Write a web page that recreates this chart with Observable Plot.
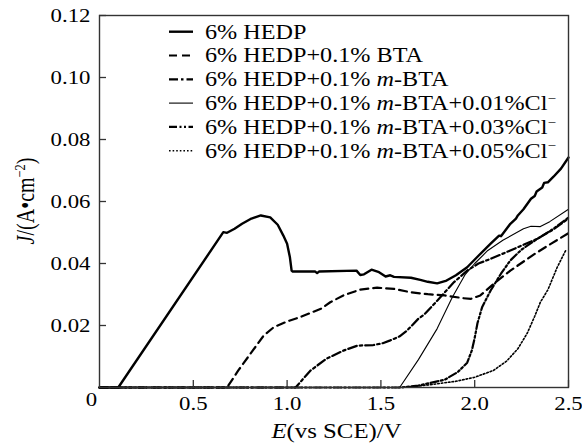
<!DOCTYPE html>
<html>
<head>
<meta charset="utf-8">
<script src="https://cdn.jsdelivr.net/npm/d3@7"></script>
<script src="https://cdn.jsdelivr.net/npm/@observablehq/plot@0.6"></script>
<style>
  body { margin: 0; background: #fff; }
  #chart svg { font-family: "Liberation Serif", "Times New Roman", serif; }
</style>
</head>
<body>
<div id="chart"></div>
<script>
// Anodic polarization curves, E (V vs SCE) against J (A/cm²)
const hedp = [[0,0],[0.10,0],[0.66,0.0501],[0.68,0.0499],[0.72,0.0512],[0.76,0.0528],[0.81,0.0545],[0.86,0.0555],[0.91,0.0549],[0.95,0.0525],[0.98,0.049],[1.0,0.0464],[1.015,0.042],[1.024,0.0377],[1.03,0.0374],[1.15,0.0374],[1.16,0.0369],[1.17,0.0374],[1.37,0.0377],[1.39,0.0363],[1.41,0.0365],[1.45,0.038],[1.49,0.0372],[1.525,0.0358],[1.55,0.0362],[1.57,0.0357],[1.66,0.0354],[1.71,0.0347],[1.75,0.0341],[1.80,0.0336],[1.85,0.0345],[1.90,0.0362],[1.96,0.0388],[2.02,0.0425],[2.085,0.0464],[2.13,0.049],[2.14,0.0488],[2.19,0.0528],[2.22,0.0545],[2.23,0.0555],[2.26,0.0575],[2.30,0.0609],[2.32,0.0618],[2.33,0.0632],[2.36,0.0645],[2.37,0.066],[2.39,0.0662],[2.42,0.068],[2.46,0.0706],[2.50,0.0742]];
const bta = [[0,0],[0.68,0],[0.74,0.0055],[0.80,0.0105],[0.876,0.0168],[0.93,0.0195],[1.0,0.0213],[1.07,0.0227],[1.18,0.0254],[1.23,0.0275],[1.30,0.0297],[1.39,0.0316],[1.48,0.0322],[1.57,0.0318],[1.66,0.0307],[1.75,0.0301],[1.84,0.0297],[1.94,0.0288],[1.98,0.0286],[2.03,0.0297],[2.10,0.0334],[2.19,0.0377],[2.32,0.0431],[2.41,0.0465],[2.5,0.0498]];
const mbta = [[0,0],[1.045,0],[1.125,0.0055],[1.21,0.0093],[1.30,0.0119],[1.375,0.0135],[1.46,0.0137],[1.51,0.0143],[1.55,0.0152],[1.60,0.0165],[1.64,0.0184],[1.70,0.0222],[1.73,0.0235],[1.80,0.028],[1.89,0.034],[1.96,0.0377],[2.02,0.040],[2.085,0.0415],[2.19,0.0442],[2.335,0.048],[2.42,0.051],[2.5,0.0545]];
const cl001 = [[0,0],[1.6,0],[1.7,0.009],[1.8,0.019],[1.88,0.029],[1.95,0.0365],[2.0,0.040],[2.07,0.0442],[2.15,0.0475],[2.26,0.0512],[2.3,0.052],[2.35,0.0519],[2.4,0.0535],[2.5,0.0575]];
const cl003 = [[0,0],[1.6,0],[1.7,0.0006],[1.765,0.0015],[1.84,0.0025],[1.91,0.005],[1.96,0.008],[1.985,0.012],[2.0,0.016],[2.015,0.0208],[2.04,0.026],[2.085,0.0313],[2.14,0.0367],[2.19,0.041],[2.25,0.0445],[2.335,0.048],[2.42,0.0512],[2.5,0.0548]];
const cl005 = [[0,0],[1.62,0],[1.75,0.0008],[1.9,0.002],[2.0,0.0033],[2.1,0.0055],[2.17,0.0085],[2.23,0.0125],[2.28,0.0175],[2.32,0.023],[2.35,0.0275],[2.39,0.0315],[2.44,0.0388],[2.485,0.0442]];

// Legend labels as runs of text: i = italic, sup = superscript
const labels = [
  [{t: "6% HEDP"}],
  [{t: "6% HEDP+0.1% BTA"}],
  [{t: "6% HEDP+0.1% "}, {t: "m", i: true}, {t: "-BTA"}],
  [{t: "6% HEDP+0.1% "}, {t: "m", i: true}, {t: "-BTA+0.01%Cl"}, {t: "\u2212", sup: true}],
  [{t: "6% HEDP+0.1% "}, {t: "m", i: true}, {t: "-BTA+0.03%Cl"}, {t: "\u2212", sup: true}],
  [{t: "6% HEDP+0.1% "}, {t: "m", i: true}, {t: "-BTA+0.05%Cl"}, {t: "\u2212", sup: true}]
];
const xTicks = [0.5, 1.0, 1.5, 2.0, 2.5];
const yTicks = [0.02, 0.04, 0.06, 0.08, 0.10, 0.12];

const series = [hedp, bta, mbta, cl001, cl003, cl005];
const lineStyles = [
  {strokeWidth: 2.4, dash: null},
  {strokeWidth: 2.2, dash: "8,5"},
  {strokeWidth: 2.2, dash: "9,3,2.5,3"},
  {strokeWidth: 1.1, dash: null},
  {strokeWidth: 2.2, dash: "8,2.5,2,2.5,2,2.5"},
  {strokeWidth: 1.6, dash: "1.6,2"}
];

const W = 582, H = 445, mL = 99, mR = 14, mT = 15, mB = 58;
const plotW = W - mL - mR, plotH = H - mT - mB;
const FS = 19, STRETCH = 1.2;

const lineMarks = series.map((s, k) => Plot.line(s, {
  x: d => d[0], y: d => d[1], stroke: "#000",
  strokeWidth: lineStyles[k].strokeWidth,
  strokeDasharray: lineStyles[k].dash,
  strokeLinejoin: "round"
}));

const chart = Plot.plot({
  width: W, height: H,
  marginLeft: mL, marginRight: mR, marginTop: mT, marginBottom: mB,
  style: {fontFamily: "'Liberation Serif', 'Times New Roman', serif", fontSize: FS + "px", color: "#000", background: "#fff"},
  x: {domain: [0, 2.5]},
  y: {domain: [0, 0.12]},
  marks: [
    ...lineMarks.slice().reverse(),
    Plot.tickY(yTicks, {y: d => d, insetRight: plotW - 7, stroke: "#333", strokeWidth: 1.3}),
    Plot.tickX(xTicks, {x: d => d, insetTop: plotH - 7, stroke: "#333", strokeWidth: 1.3}),
    Plot.frame({stroke: "#333", strokeWidth: 1.4}),
    Plot.axisY(yTicks, {tickSize: 0, tickPadding: 9, tickFormat: d => d.toFixed(2), label: null, fill: "#000"}),
    Plot.axisX(xTicks, {tickSize: 0, tickPadding: 9, tickFormat: d => d.toFixed(1), label: null, fill: "#000"}),
    Plot.text([[0, 0]], {x: d => d[0], y: d => d[1], text: () => "0", dx: -8, dy: 12, fill: "#000"})
  ]
});
document.getElementById("chart").appendChild(chart);

const svg = d3.select(chart);

function addRuns(sel, runs) {
  runs.forEach(r => {
    const ts = sel.append("tspan").text(r.t);
    if (r.i) ts.attr("font-style", "italic");
    if (r.sup) ts.attr("font-size", "0.62em").attr("baseline-shift", "0.55em");
  });
}

// Axis titles
const yTitle = svg.append("text")
  .attr("class", "wide")
  .attr("text-anchor", "middle")
  .attr("font-size", 20)
  .attr("transform", `translate(25,${mT + plotH / 2}) rotate(-90)`)
  .attr("dy", "0.35em")
  .attr("fill", "#000");
addRuns(yTitle, [{t: "J", i: true}, {t: "/(A\u2022cm"}, {t: "\u22122", sup: true}, {t: ")"}]);

const xTitle = svg.append("text")
  .attr("class", "wide")
  .attr("text-anchor", "middle")
  .attr("font-size", 20)
  .attr("transform", `translate(${mL + plotW / 2 + 3},438)`)
  .attr("fill", "#000");
addRuns(xTitle, [{t: "E", i: true}, {t: "(vs SCE)/V"}]);

// Legend inside the plot area
const leg = svg.append("g").attr("text-anchor", "start");
labels.forEach((runs, k) => {
  const yy = 31.7 + k * 23.8;
  leg.append("line")
    .attr("x1", 169).attr("x2", 193).attr("y1", yy).attr("y2", yy)
    .attr("stroke", "#000")
    .attr("stroke-width", lineStyles[k].strokeWidth)
    .attr("stroke-dasharray", lineStyles[k].dash);
  const t = leg.append("text")
    .attr("class", "legend")
    .attr("text-anchor", "start")
    .attr("font-size", 20)
    .attr("transform", `translate(205,${yy})`)
    .attr("dy", "0.34em")
    .attr("fill", "#000");
  addRuns(t, runs);
});

// Widen the lettering horizontally (glyphs are set wide)
svg.selectAll("text").each(function() {
  const tr = this.getAttribute("transform") || "";
  const rotated = /rotate\(-90\)/.test(tr);
  const cls = this.getAttribute("class") || "";
  const k = cls === "legend" ? 1.21 : cls === "wide" ? 1.24 : STRETCH;
  this.setAttribute("transform", tr + (rotated ? ` scale(1,${k})` : ` scale(${k},1)`));
});
</script>
</body>
</html>
